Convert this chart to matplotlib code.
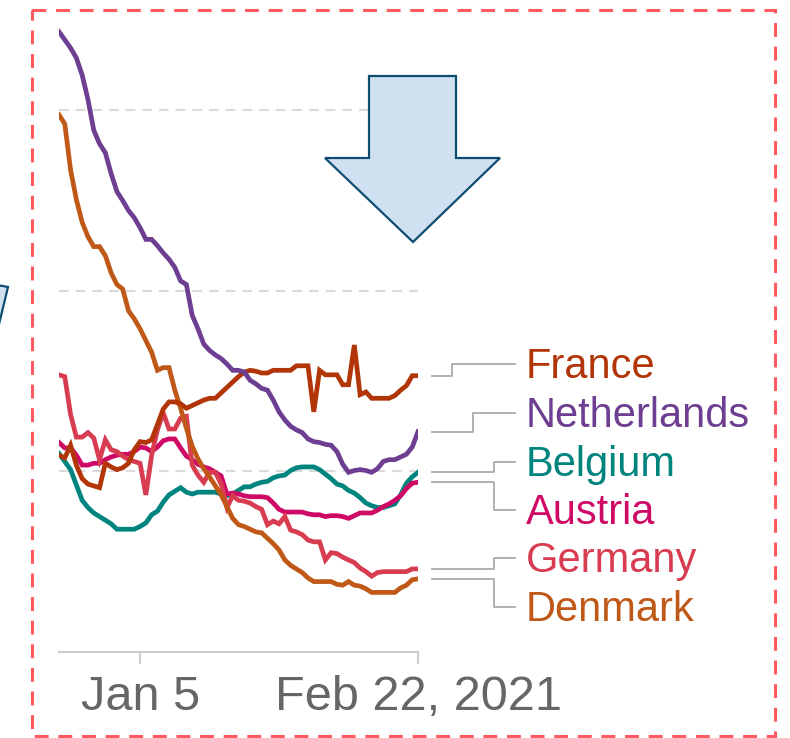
import pandas as pd
import matplotlib.pyplot as plt
import matplotlib.dates as mdates
from matplotlib.patches import Polygon, Rectangle

plt.rcParams['font.family'] = ['Liberation Sans', 'DejaVu Sans']
plt.rcParams['lines.scale_dashes'] = False

# daily new cases per million, 7-day average, Dec 22 2020 .. Feb 22 2021
dates = pd.date_range('2020-12-22', '2021-02-22', freq='D')

france = [218, 215, 229, 207, 192, 186, 184, 182, 209, 205, 202, 204, 209, 224, 233, 232,
          235, 252, 269, 277, 277, 275, 270, 273, 276, 279, 281, 281, 287, 293, 299, 305,
          310, 312, 311, 309, 309, 312, 312, 312, 312, 317, 317, 317, 266, 312, 307, 307,
          307, 296, 296, 340, 285, 288, 281, 281, 281, 281, 284, 290, 295, 306, 306]
netherlands = [687, 678, 669, 658, 639, 612, 578, 563, 553, 530, 510, 500, 489, 481, 470, 457,
               457, 450, 442, 435, 426, 411, 407, 373, 358, 341, 334, 329, 325, 319, 312, 312,
               310, 301, 297, 292, 290, 279, 266, 257, 250, 246, 243, 236, 233, 232, 230, 229,
               222, 208, 199, 201, 202, 201, 199, 203, 211, 213, 213, 216, 219, 227, 244]
belgium = [220, 211, 202, 185, 168, 160, 154, 150, 146, 142, 136, 136, 136, 136, 139, 143,
           152, 156, 166, 174, 178, 182, 177, 175, 177, 177, 177, 177, 175, 173, 175, 179,
           183, 183, 186, 188, 189, 193, 195, 196, 201, 204, 205, 205, 205, 202, 197, 192,
           186, 184, 179, 176, 171, 165, 162, 160, 160, 162, 164, 174, 187, 194, 199]
austria = [232, 226, 226, 218, 207, 207, 209, 209, 213, 216, 218, 219, 219, 222, 227, 226,
           222, 227, 234, 236, 236, 226, 217, 213, 208, 205, 203, 199, 195, 175, 176, 175,
           173, 172, 172, 172, 171, 165, 158, 155, 155, 155, 155, 153, 152, 152, 150, 151,
           151, 150, 148, 151, 154, 154, 154, 157, 161, 164, 168, 173, 181, 187, 188]
germany = [307, 305, 263, 238, 238, 243, 237, 213, 235, 224, 222, 217, 213, 211, 209, 174,
           218, 246, 265, 247, 247, 259, 261, 207, 196, 188, 199, 199, 186, 160, 173, 168,
           167, 165, 161, 158, 141, 145, 142, 150, 135, 133, 130, 124, 122, 122, 102, 110,
           109, 105, 102, 99, 93, 89, 84, 88, 89, 89, 89, 89, 89, 92, 92]
denmark = [595, 585, 534, 501, 476, 460, 449, 449, 439, 420, 407, 402, 378, 369, 358, 345,
           332, 312, 315, 315, 290, 270, 248, 228, 214, 203, 194, 184, 174, 161, 148, 141,
           139, 136, 133, 132, 126, 120, 113, 102, 96, 92, 88, 82, 78, 78, 78, 78,
           75, 74, 78, 74, 73, 70, 66, 66, 66, 66, 66, 71, 74, 80, 81]

countries = ['France', 'Netherlands', 'Belgium', 'Austria', 'Germany', 'Denmark']
series = [france, netherlands, belgium, austria, germany, denmark]
colors = ['#B13507', '#6D3E91', '#00847E', '#CF0A66', '#D73C50', '#C05917']

tick_dates = pd.to_datetime(['2021-01-05', '2021-02-22'])
tick_labels = ['Jan 5', 'Feb 22, 2021']
grid_values = [200, 400, 600]

W, H = 790, 738
fig = plt.figure(figsize=(W / 100, H / 100), dpi=100)
ax = fig.add_axes([59 / W, 86 / H, 359 / W, 632 / H])
ax.set_xlim(dates[0], dates[-1])
ax.set_ylim(0, 700)

for g in grid_values:
    ax.axhline(g, color='#DADADA', lw=1.5, dashes=(7, 5), zorder=1)

draw_order = [2, 3, 4, 5, 0, 1]
for i in draw_order:
    ax.plot(dates, series[i], color=colors[i], lw=3.4, solid_joinstyle='miter', zorder=3)

for side in ['top', 'right', 'left']:
    ax.spines[side].set_visible(False)
ax.spines['bottom'].set_color('#CCCCCC')
ax.spines['bottom'].set_linewidth(1.5)
ax.set_yticks([])
ax.set_xticks(tick_dates)
ax.set_xticklabels(tick_labels)
ax.tick_params(axis='x', length=8.5, width=1.5, color='#CCCCCC', pad=8,
               labelsize=35, labelcolor='#666666')
ax.patch.set_alpha(0)

# overlay in figure pixels for the labels, connectors and the arrows
ov = fig.add_axes([0, 0, 1, 1], zorder=5)
ov.set_xlim(0, W)
ov.set_ylim(H, 0)
ov.axis('off')
ov.patch.set_alpha(0)

label_y = [364, 413, 462, 510, 558, 607]
bend_x = [452, 473, 494, 494, 494, 494]
x_end = mdates.date2num(dates[-1])
for name, vals, col, ly, bx in zip(countries, series, colors, label_y, bend_x):
    sy = H - ax.transData.transform((x_end, vals[-1]))[1]
    ov.plot([432, bx, bx, 515], [sy, sy, ly, ly], color='#AAAAAA', lw=1.3)
    ov.text(526, ly + 14, name, color=col, fontsize=30, va='baseline', ha='left')

ov.add_patch(Polygon([(369, 76), (456, 76), (456, 158), (500, 158), (413, 242),
                      (325, 158), (369, 158)], closed=True,
                     facecolor='#CFE1F1', edgecolor='#0E4D72', lw=1.6))
ov.add_patch(Polygon([(-30, 280), (8, 287), (-6, 345)], closed=True,
                     facecolor='#CFE1F1', edgecolor='#0E4D72', lw=1.6))
ov.add_patch(Rectangle((32, 10), 743, 726, fill=False, edgecolor='#FF5A5F',
                       lw=2.2, linestyle=(0, (10, 7))))

fig.savefig('out.png', dpi=100)
